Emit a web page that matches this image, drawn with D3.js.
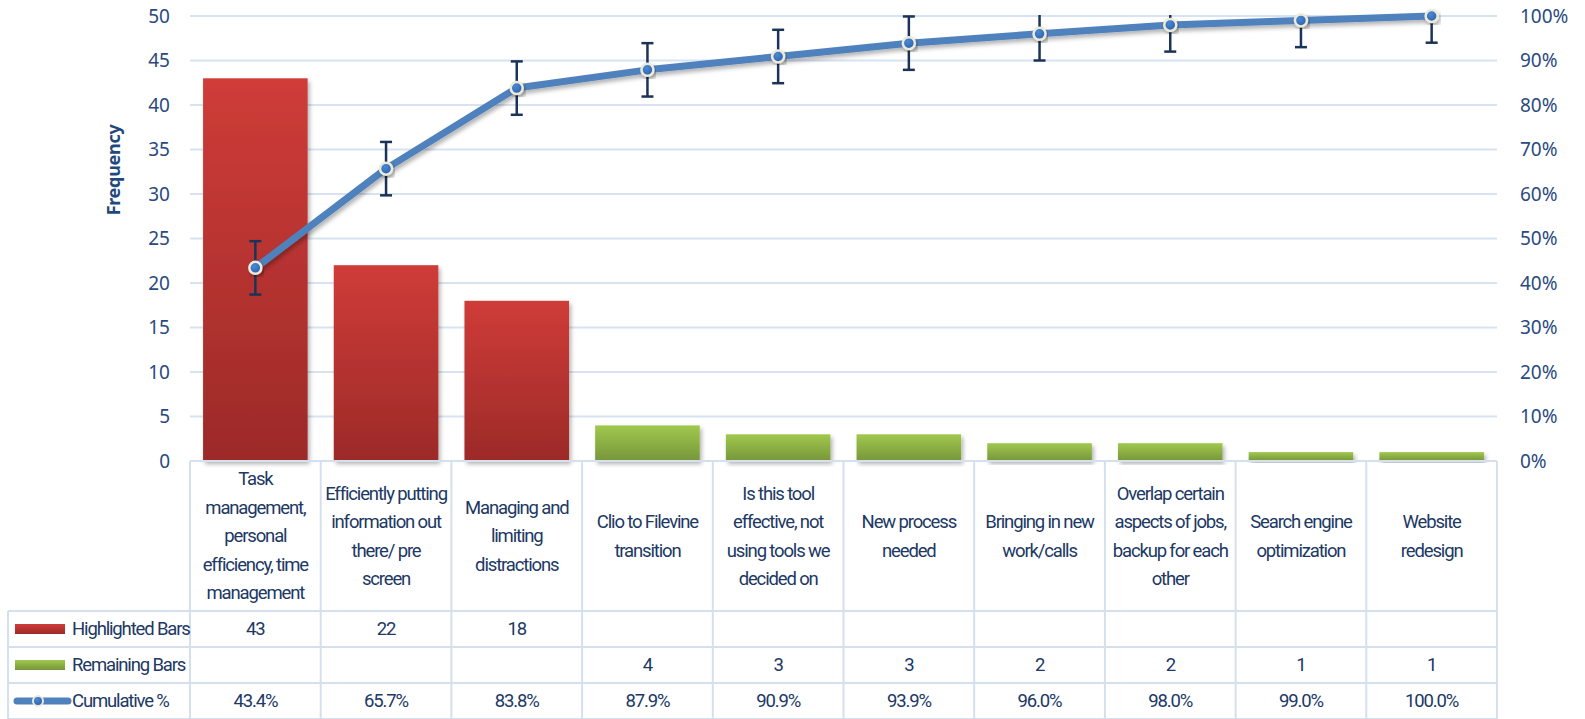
<!DOCTYPE html>
<html>
<head>
<meta charset="utf-8">
<script src="https://cdn.jsdelivr.net/npm/d3@7"></script>
<style>
  body { margin: 0; background: #fff; }
  svg { display: block; }
  .tick-lbl { font-family: "Noto Sans", sans-serif; font-size: 19px; fill: #2a4a7f; }
  .tbl { font-family: Roboto, "Liberation Sans", sans-serif; font-size: 18.5px; fill: #203864; letter-spacing: -1.15px; }
</style>
</head>
<body>
<svg id="chart"></svg>
<script>
// data
const categories = [
  "Task\nmanagement,\npersonal\nefficiency, time\nmanagement",
  "Efficiently putting\ninformation out\nthere/ pre\nscreen",
  "Managing and\nlimiting\ndistractions",
  "Clio to Filevine\ntransition",
  "Is this tool\neffective, not\nusing tools we\ndecided on",
  "New process\nneeded",
  "Bringing in new\nwork/calls",
  "Overlap certain\naspects of jobs,\nbackup for each\nother",
  "Search engine\noptimization",
  "Website\nredesign"
];
const frequency = [43, 22, 18, 4, 3, 3, 2, 2, 1, 1];
const highlightedCount = 3;
const cumulativePct = [43.4, 65.7, 83.8, 87.9, 90.9, 93.9, 96.0, 98.0, 99.0, 100.0];
const errorPct = 6;
const freqTicks = [0, 5, 10, 15, 20, 25, 30, 35, 40, 45, 50];
const pctTicks = [0, 10, 20, 30, 40, 50, 60, 70, 80, 90, 100];
const rowNames = ["Highlighted Bars", "Remaining Bars", "Cumulative %"];

const width = 1585, height = 719;
const plot = { left: 190, right: 1497, top: 16, bottom: 461 };
const headerBottom = 611, rowH = 36, tableLeft = 8;

const svg = d3.select("#chart").attr("width", width).attr("height", height);
const defs = svg.append("defs");

const redGrad = defs.append("linearGradient").attr("id", "redGrad").attr("x1", 0).attr("y1", 0).attr("x2", 0).attr("y2", 1);
redGrad.append("stop").attr("offset", "0%").attr("stop-color", "#cf3c38");
redGrad.append("stop").attr("offset", "100%").attr("stop-color", "#9c2a28");
const greenGrad = defs.append("linearGradient").attr("id", "greenGrad").attr("x1", 0).attr("y1", 0).attr("x2", 0).attr("y2", 1);
greenGrad.append("stop").attr("offset", "0%").attr("stop-color", "#a0c84e");
greenGrad.append("stop").attr("offset", "100%").attr("stop-color", "#77963a");
const dotGrad = defs.append("radialGradient").attr("id", "dotGrad").attr("cx", "40%").attr("cy", "35%").attr("r", "65%");
dotGrad.append("stop").attr("offset", "0%").attr("stop-color", "#4a8ad6");
dotGrad.append("stop").attr("offset", "100%").attr("stop-color", "#2a62aa");

const shadow = defs.append("filter").attr("id", "shadow").attr("x", "-20%").attr("y", "-20%").attr("width", "140%").attr("height", "140%");
shadow.append("feDropShadow").attr("dx", 2).attr("dy", 3).attr("stdDeviation", 2).attr("flood-color", "#000").attr("flood-opacity", 0.3);

defs.append("clipPath").attr("id", "plotClip").append("rect")
  .attr("x", plot.left).attr("y", plot.top - 1).attr("width", plot.right - plot.left).attr("height", plot.bottom - plot.top + 1);

const x = d3.scaleBand().domain(d3.range(categories.length)).range([plot.left, plot.right])
  .paddingInner(0.2).paddingOuter(0.1);
const yFreq = d3.scaleLinear().domain([0, 50]).range([plot.bottom, plot.top]);
const yPct = d3.scaleLinear().domain([0, 100]).range([plot.bottom, plot.top]);
const colW = (plot.right - plot.left) / categories.length;
const colX = i => plot.left + i * colW;

// gridlines
svg.append("g").selectAll("line").data(freqTicks.slice(1)).join("line")
  .attr("x1", plot.left).attr("x2", plot.right)
  .attr("y1", d => yFreq(d)).attr("y2", d => yFreq(d))
  .attr("stroke", "#d8e3f2").attr("stroke-width", 2);

// axes labels
svg.append("g").selectAll("text").data(freqTicks).join("text")
  .attr("class", "tick-lbl").attr("x", 170).attr("y", d => yFreq(d)).attr("dy", "0.36em")
  .attr("text-anchor", "end").text(d => d);
svg.append("g").selectAll("text").data(pctTicks).join("text")
  .attr("class", "tick-lbl").attr("x", 1520).attr("y", d => yPct(d)).attr("dy", "0.36em")
  .text(d => d + "%");

svg.append("text")
  .attr("transform", `translate(120,170) rotate(-90)`)
  .attr("text-anchor", "middle")
  .style("font-family", "'Noto Sans', sans-serif").style("font-size", "18px").style("font-weight", "bold")
  .style("letter-spacing", "-0.3px")
  .style("fill", "#1f497d").text("Frequency");

// bars
svg.append("g").selectAll("rect").data(frequency).join("rect")
  .attr("x", (d, i) => x(i)).attr("width", x.bandwidth())
  .attr("y", d => yFreq(d)).attr("height", d => yFreq(0) - yFreq(d))
  .attr("fill", (d, i) => i < highlightedCount ? "url(#redGrad)" : "url(#greenGrad)")
  .attr("filter", "url(#shadow)");

// error bars
const errG = svg.append("g").attr("clip-path", "url(#plotClip)")
  .attr("stroke", "#1c3358").attr("stroke-width", 2.5);
cumulativePct.forEach((p, i) => {
  const cx = x(i) + x.bandwidth() / 2;
  const g = errG.append("g");
  g.append("line").attr("x1", cx).attr("x2", cx).attr("y1", yPct(p + errorPct)).attr("y2", yPct(p - errorPct));
  g.append("line").attr("x1", cx - 6).attr("x2", cx + 6).attr("y1", yPct(p + errorPct)).attr("y2", yPct(p + errorPct));
  g.append("line").attr("x1", cx - 6).attr("x2", cx + 6).attr("y1", yPct(p - errorPct)).attr("y2", yPct(p - errorPct));
});

// cumulative line
const line = d3.line().x((d, i) => x(i) + x.bandwidth() / 2).y(d => yPct(d));
svg.append("path").datum(cumulativePct).attr("d", line)
  .attr("fill", "none").attr("stroke", "#4f81bd").attr("stroke-width", 7)
  .attr("stroke-linejoin", "round").attr("filter", "url(#shadow)");
svg.append("g").selectAll("circle").data(cumulativePct).join("circle")
  .attr("cx", (d, i) => x(i) + x.bandwidth() / 2).attr("cy", d => yPct(d)).attr("r", 6)
  .attr("fill", "url(#dotGrad)").attr("stroke", "#eeeadb").attr("stroke-width", 2.5)
  .attr("filter", "url(#shadow)");

// table grid
const tbl = svg.append("g").attr("stroke", "#d5e0ef").attr("stroke-width", 2);
tbl.append("line").attr("x1", plot.left).attr("x2", plot.right).attr("y1", plot.bottom).attr("y2", plot.bottom);
d3.range(4).forEach(r => {
  const yy = headerBottom + r * rowH;
  tbl.append("line").attr("x1", tableLeft).attr("x2", plot.right).attr("y1", yy).attr("y2", yy);
});
d3.range(categories.length + 1).forEach(i => {
  tbl.append("line").attr("x1", colX(i)).attr("x2", colX(i)).attr("y1", plot.bottom).attr("y2", height);
});
tbl.append("line").attr("x1", tableLeft).attr("x2", tableLeft).attr("y1", headerBottom).attr("y2", height);

// category labels
const lineH = 28.5;
const headMid = (plot.bottom + headerBottom) / 2;
categories.forEach((c, i) => {
  const lines = c.split("\n");
  const t = svg.append("text").attr("class", "tbl").attr("text-anchor", "middle");
  lines.forEach((l, k) => {
    t.append("tspan").attr("x", colX(i) + colW / 2)
      .attr("y", headMid + (k - (lines.length - 1) / 2) * lineH).attr("dy", "0.35em").text(l);
  });
});

// table rows
const rowMid = r => headerBottom + r * rowH + rowH / 2;
rowNames.forEach((n, r) => {
  svg.append("text").attr("class", "tbl").attr("x", 72).attr("y", rowMid(r)).attr("dy", "0.35em").text(n);
});
svg.append("rect").attr("x", 15).attr("y", rowMid(0) - 5).attr("width", 50).attr("height", 10).attr("fill", "url(#redGrad)");
svg.append("rect").attr("x", 15).attr("y", rowMid(1) - 5).attr("width", 50).attr("height", 10).attr("fill", "url(#greenGrad)");
svg.append("line").attr("x1", 17).attr("x2", 68).attr("y1", rowMid(2)).attr("y2", rowMid(2))
  .attr("stroke", "#4f81bd").attr("stroke-width", 7).attr("stroke-linecap", "round");
svg.append("circle").attr("cx", 38).attr("cy", rowMid(2)).attr("r", 5)
  .attr("fill", "url(#dotGrad)").attr("stroke", "#eeeadb").attr("stroke-width", 2);

frequency.forEach((v, i) => {
  const r = i < highlightedCount ? 0 : 1;
  svg.append("text").attr("class", "tbl").attr("text-anchor", "middle")
    .attr("x", colX(i) + colW / 2).attr("y", rowMid(r)).attr("dy", "0.35em").text(v);
});
cumulativePct.forEach((v, i) => {
  svg.append("text").attr("class", "tbl").attr("text-anchor", "middle")
    .attr("x", colX(i) + colW / 2).attr("y", rowMid(2)).attr("dy", "0.35em").text(v.toFixed(1) + "%");
});
</script>
</body>
</html>
